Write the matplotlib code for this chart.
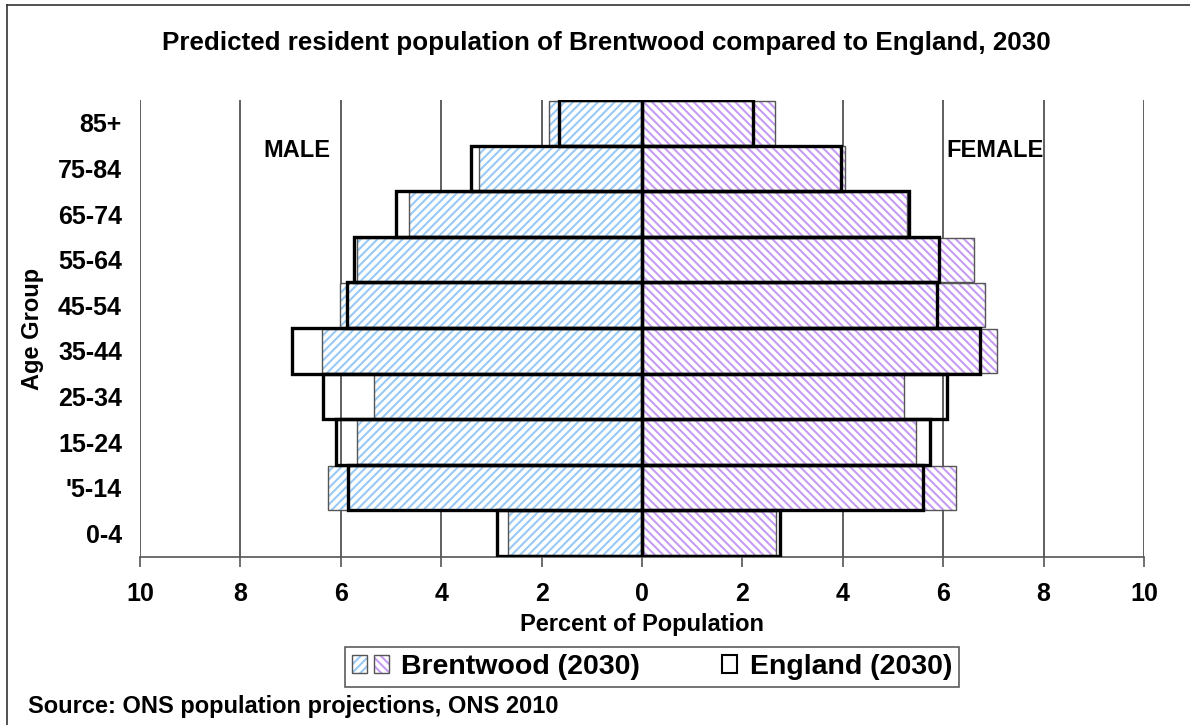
import matplotlib
matplotlib.use('Agg')
import matplotlib.pyplot as plt
from matplotlib.patches import Patch
from matplotlib.lines import Line2D
from matplotlib.legend_handler import HandlerTuple

# Data
age_groups = ['0-4', "'5-14", '15-24', '25-34', '35-44', '45-54', '55-64', '65-74', '75-84', '85+']
brentwood_male = [2.66, 6.26, 5.67, 5.33, 6.38, 6.02, 5.67, 4.64, 3.25, 1.85]
brentwood_female = [2.66, 6.26, 5.45, 5.21, 7.07, 6.83, 6.61, 5.28, 4.04, 2.65]
england_male = [2.89, 5.86, 6.10, 6.35, 6.97, 5.88, 5.74, 4.91, 3.41, 1.65]
england_female = [2.75, 5.60, 5.74, 6.08, 6.74, 5.88, 5.91, 5.31, 3.96, 2.21]
x_ticks = [-10, -8, -6, -4, -2, 0, 2, 4, 6, 8, 10]

plt.rcParams['font.family'] = ['Liberation Sans', 'DejaVu Sans']
plt.rcParams['font.weight'] = 'bold'
plt.rcParams['hatch.linewidth'] = 1.5

blue = '#99c9f5'
purple = '#c69cf2'

fig = plt.figure(figsize=(11.9, 7.25), dpi=100)
ax = fig.add_axes([140 / 1190, 1 - 557 / 725, 1004 / 1190, 457 / 725])

y = list(range(len(age_groups)))
neg_bm = [-v for v in brentwood_male]
neg_em = [-v for v in england_male]

# Brentwood hatched bars (hatch colour comes from edgecolor)
ax.barh(y, neg_bm, height=0.97, color='white', edgecolor=blue, hatch='////', linewidth=0, zorder=2)
ax.barh(y, brentwood_female, height=0.97, color='white', edgecolor=purple, hatch='\\\\\\\\', linewidth=0, zorder=2)
ax.barh(y, neg_bm, height=0.97, color='none', edgecolor='#555555', linewidth=1.0, zorder=3)
ax.barh(y, brentwood_female, height=0.97, color='none', edgecolor='#555555', linewidth=1.0, zorder=3)

# England outlines
ax.barh(y, neg_em, height=1.0, color='none', edgecolor='black', linewidth=2.4, zorder=4)
ax.barh(y, england_female, height=1.0, color='none', edgecolor='black', linewidth=2.4, zorder=4)

ax.set_xlim(-10, 10)
ax.set_ylim(-0.52, 9.5)
ax.set_xticks(x_ticks)
ax.set_xticklabels([str(abs(t)) for t in x_ticks], fontsize=18, fontweight='bold')
ax.set_yticks(y)
ax.set_yticklabels(age_groups, fontsize=18, fontweight='bold')
ax.tick_params(axis='y', length=0, pad=13)
ax.tick_params(axis='x', length=7, width=1.2, color='#555555', direction='out', pad=11)
ax.xaxis.grid(True, color='#444444', linewidth=1.2, zorder=0)
ax.set_axisbelow(True)
for side in ['top', 'right', 'left']:
    ax.spines[side].set_visible(False)
ax.spines['bottom'].set_color('#555555')
ax.spines['bottom'].set_linewidth(1.2)

ax.set_xlabel('Percent of Population', fontsize=17, fontweight='bold', labelpad=5)
ax.set_ylabel('Age Group', fontsize=17, fontweight='bold', labelpad=10)

ax.text(-6.87, 8.4, 'MALE', fontsize=17, fontweight='bold', ha='center', va='center')
ax.text(7.03, 8.4, 'FEMALE', fontsize=17, fontweight='bold', ha='center', va='center')

fig.text(606 / 1190, 1 - 43 / 725, 'Predicted resident population of Brentwood compared to England, 2030',
         fontsize=18.7, fontweight='bold', ha='center', va='center')
fig.text(28 / 1190, 1 - 706 / 725, 'Source: ONS population projections, ONS 2010',
         fontsize=17, fontweight='bold', ha='left', va='center')

# Legend: two small hatched squares for Brentwood, one white square for England
bw_blue = (Patch(facecolor='white', edgecolor=blue, hatch='////', linewidth=0),
           Patch(facecolor='none', edgecolor='#555555', linewidth=1.0))
bw_purple = (Patch(facecolor='white', edgecolor=purple, hatch='\\\\\\\\', linewidth=0),
             Patch(facecolor='none', edgecolor='#555555', linewidth=1.0))
bw_handle = (bw_blue, bw_purple)
eng_handle = (Patch(facecolor='none', edgecolor='none', linewidth=0),
              Patch(facecolor='white', edgecolor='black', linewidth=1.5))
leg = fig.legend([bw_handle, eng_handle], ['Brentwood (2030)', 'England (2030)'],
                 handler_map={bw_handle: HandlerTuple(ndivide=None, pad=0.25),
                              eng_handle: HandlerTuple(ndivide=None, pad=0.25)},
                 loc='center', bbox_to_anchor=(652 / 1190, 1 - 667 / 725), ncol=2,
                 fontsize=20.5, frameon=True, fancybox=False, edgecolor='#333333',
                 handlelength=1.3, handleheight=0.55, handletextpad=0.45, columnspacing=2.1,
                 borderpad=0.25, borderaxespad=0)
leg.get_frame().set_linewidth(1.2)

# outer frame of the chart area
fig.add_artist(Line2D([7 / 1190, 7 / 1190], [0, 1 - 5 / 725], color='#333333', linewidth=1.2))
fig.add_artist(Line2D([7 / 1190, 1], [1 - 5 / 725, 1 - 5 / 725], color='#333333', linewidth=1.2))

fig.savefig('out.png', dpi=100)
